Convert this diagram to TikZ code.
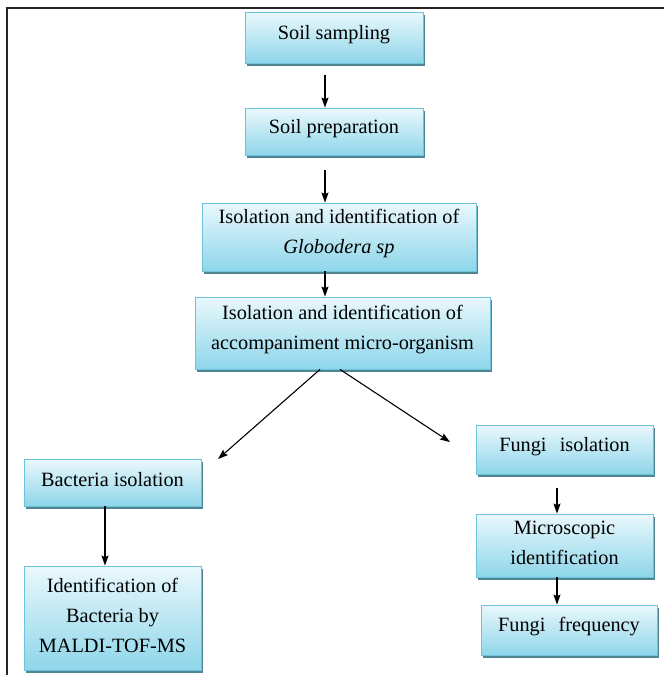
\documentclass[tikz,border=0pt]{standalone}
\usepackage{fontspec}
\setmainfont{Liberation Serif}
\usetikzlibrary{arrows.meta,shadows,calc}
\definecolor{boxtop}{HTML}{EAF8FC}
\definecolor{boxbot}{HTML}{8ED6EA}
\definecolor{boxline}{HTML}{6CC3DA}
\definecolor{boxshadow}{HTML}{4F8593}
\tikzset{
  flowbox/.style={rectangle, draw=boxline, line width=0.8pt, top color=boxtop, bottom color=boxbot,
    drop shadow={shadow xshift=1.6pt, shadow yshift=-2.6pt, fill=boxshadow, opacity=1},
    inner sep=0pt},
  boxtext/.style={align=center, font=\fontsize{20.3}{30}\selectfont, inner sep=0pt},
  arr/.style={-{Stealth[length=10pt,width=7pt,inset=1.5pt]}, line width=1.1pt, black},
}
\begin{document}
\begin{tikzpicture}[x=1pt,y=-1pt]
\useasboundingbox (0,0) rectangle (664,675);
% frame
\draw[line width=1.4pt, black!85] (7,675) -- (7,8) -- (664,8);

% boxes
\node[flowbox, minimum width=178pt, minimum height=51pt] (a) at (334,37.5) {};
\node[flowbox, minimum width=178pt, minimum height=47pt] (b) at (334,131.5) {};
\node[flowbox, minimum width=274pt, minimum height=68pt] (c) at (339,237) {};
\node[flowbox, minimum width=295pt, minimum height=72pt] (d) at (342.5,333) {};
\node[flowbox, minimum width=177pt, minimum height=47pt] (e) at (112.5,482.5) {};
\node[flowbox, minimum width=177pt, minimum height=104pt] (f) at (112.5,618) {};
\node[flowbox, minimum width=177pt, minimum height=49pt] (g) at (564.5,449.5) {};
\node[flowbox, minimum width=177pt, minimum height=63pt] (h) at (564.5,545.5) {};
\node[flowbox, minimum width=176pt, minimum height=50pt] (i) at (569,630) {};

% texts
\node[boxtext] (ta) at ([yshift=3pt]a.center) {Soil sampling};
\node[boxtext] (tb) at ([yshift=3pt]b.center) {Soil preparation};
\node[boxtext] (tc) at ([yshift=3pt]c.center) {Isolation and identification of\\ \textit{Globodera sp}};
\node[boxtext] (td) at ([yshift=3pt]d.center) {Isolation and identification of\\ accompaniment micro-organism};
\node[boxtext] (te) at ([yshift=3pt]e.center) {Bacteria isolation};
\node[boxtext] (tf) at ([yshift=3pt]f.center) {Identification of\\ Bacteria by\\ MALDI-TOF-MS};
\node[boxtext] (tg) at ([yshift=3pt]g.center) {Fungi\hspace{0.4em} isolation};
\node[boxtext] (th) at ([yshift=3pt]h.center) {Microscopic\\ identification};
\node[boxtext] (ti) at ([yshift=3pt]i.center) {Fungi\hspace{0.4em} frequency};

% helper coordinates
\coordinate (ax) at (325,0);
\coordinate (bx) at (105,0);
\coordinate (fx) at (557,0);
\coordinate (lend) at (218,459);
\coordinate (rend) at (450,442);

% connectors
\draw[arr] ([yshift=-12pt]a.south -| ax) -- (b.north -| ax);
\draw[arr] ([yshift=-15pt]b.south -| ax) -- (c.north -| ax);
\draw[arr] (c.south -| ax) -- (d.north -| ax);
\draw[arr] ([xshift=-22.5pt]d.south) -- (lend);
\draw[arr] ([xshift=-2.5pt]d.south) -- (rend);
\draw[arr] (e.south -| bx) -- (f.north -| bx);
\draw[arr] ([yshift=-14pt]g.south -| fx) -- (h.north -| fx);
\draw[arr] (h.south -| fx) -- (i.north -| fx);
\end{tikzpicture}
\end{document}
